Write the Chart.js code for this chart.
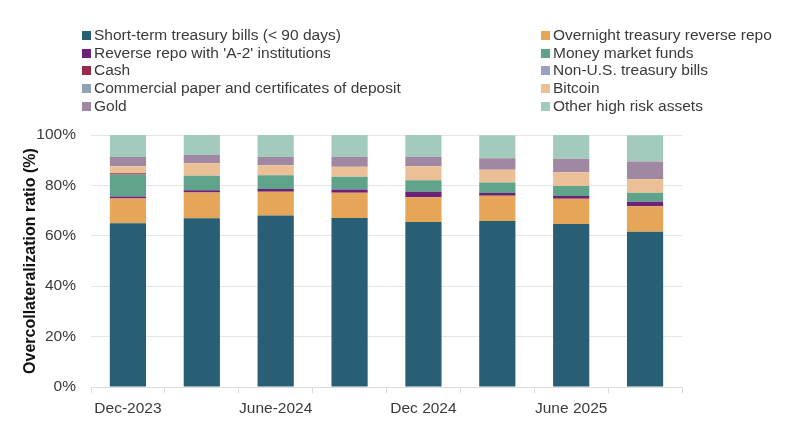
<!DOCTYPE html>
<html>
<head>
<meta charset="utf-8">
<script src="https://cdn.jsdelivr.net/npm/chart.js@4.4.1/dist/chart.umd.min.js"></script>
<style>
    body { margin: 0; background: #fff; }
    #wrap { position: relative; width: 800px; height: 445px; }
    #legend { position: absolute; left: 0; top: 0; width: 800px; height: 120px;
              font-family: "Liberation Sans", Arial, sans-serif; font-size: 15.5px; color: #3a3a3a; }
    .item { position: absolute; white-space: nowrap; line-height: 18px; }
    .box { display: inline-block; width: 9px; height: 9px; margin-right: 3px; vertical-align: 0px; }
</style>
</head>
<body>
<div id="wrap">
    <canvas id="ocChart" width="800" height="445"></canvas>
    <div id="legend"></div>
</div>
<script>
const categories = ["Dec-2023", "Mar-2024", "June-2024", "Sep-2024", "Dec 2024", "Mar 2025", "June 2025", "Sep 2025"];
const shownLabels = ["Dec-2023", "June-2024", "Dec 2024", "June 2025"];
const yTicks = [0, 20, 40, 60, 80, 100];

const shortTermBills = [65.0, 67.0, 68.1, 67.1, 65.5, 65.9, 64.7, 61.6];
const overnightRepo  = [9.8, 10.2, 9.4, 10.0, 9.8, 10.0, 10.0, 10.1];
const repoA2         = [0.8, 0.9, 1.1, 1.3, 2.2, 1.1, 1.1, 1.8];
const moneyMarket    = [8.7, 5.7, 5.4, 5.0, 4.5, 4.2, 4.0, 3.6];
const cash           = [0.5, 0, 0, 0, 0, 0, 0, 0];
const nonUsBills     = [0, 0, 0, 0, 0, 0, 0, 0];
const commercialPaper = [0, 0, 0, 0, 0, 0, 0, 0];
const bitcoin        = [2.8, 5.0, 4.0, 4.0, 5.6, 5.0, 5.4, 5.3];
const gold           = [3.7, 3.3, 3.3, 4.0, 3.8, 4.6, 5.4, 7.1];
const otherHighRisk  = [8.7, 7.9, 8.7, 8.6, 8.6, 9.1, 9.4, 10.4];

const seriesNames = [
    "Short-term treasury bills (< 90 days)",
    "Overnight treasury reverse repo",
    "Reverse repo with 'A-2' institutions",
    "Money market funds",
    "Cash",
    "Non-U.S. treasury bills",
    "Commercial paper and certificates of deposit",
    "Bitcoin",
    "Gold",
    "Other high risk assets"
];
const seriesData = [shortTermBills, overnightRepo, repoA2, moneyMarket, cash,
                    nonUsBills, commercialPaper, bitcoin, gold, otherHighRisk];
const seriesColors = ["#285f75", "#e5a657", "#6c2277", "#5fa38b", "#9b2a4a",
                      "#9a9fc6", "#8ea3b4", "#ebc097", "#a088a2", "#a2cbbd"];

// legend in two columns, read row by row
const legendEl = document.getElementById("legend");
seriesNames.forEach((name, i) => {
    const div = document.createElement("div");
    div.className = "item";
    div.style.left = (i % 2 === 0 ? 82 : 541) + "px";
    div.style.top = (26 + Math.floor(i / 2) * 17.7) + "px";
    div.innerHTML = '<span class="box" style="background:' + seriesColors[i] + '"></span>';
    div.appendChild(document.createTextNode(name));
    legendEl.appendChild(div);
});

const ctx = document.getElementById("ocChart").getContext("2d");
new Chart(ctx, {
    type: "bar",
    data: {
        labels: categories,
        datasets: seriesNames.map((name, i) => ({
            label: name,
            data: seriesData[i],
            backgroundColor: seriesColors[i],
            borderWidth: 0,
            barPercentage: 0.49,
            categoryPercentage: 1.0
        }))
    },
    options: {
        responsive: false,
        animation: false,
        layout: { padding: { top: 135, right: 118, bottom: 0, left: 17 } },
        plugins: { legend: { display: false }, tooltip: { enabled: false } },
        scales: {
            x: {
                stacked: true,
                offset: true,
                grid: { offset: true, drawOnChartArea: false, drawTicks: true, tickLength: 6, color: "#dcdcdc" },
                border: { color: "#dcdcdc" },
                ticks: {
                    autoSkip: false, maxRotation: 0, padding: 6,
                    color: "#3a3a3a",
                    font: { family: "Liberation Sans", size: 15.5 },
                    callback: function (value) {
                        const lbl = this.getLabelForValue(value);
                        return shownLabels.includes(lbl) ? lbl : "";
                    }
                },
                afterFit: scale => { scale.height = 58; }
            },
            y: {
                stacked: true,
                min: 0, max: 100,
                afterBuildTicks: scale => { scale.ticks = yTicks.map(v => ({ value: v })); },
                grid: { color: "#e6e6e6", drawTicks: false },
                border: { display: false },
                ticks: {
                    padding: 15, color: "#3a3a3a",
                    font: { family: "Liberation Sans", size: 15.5 },
                    callback: v => v + "%"
                },
                title: {
                    display: true,
                    text: "Overcollateralization ratio (%)",
                    color: "#111",
                    font: { family: "Liberation Sans", size: 16, weight: "bold" }
                },
                afterFit: scale => { scale.width = 74; }
            }
        }
    }
});
</script>
</body>
</html>
